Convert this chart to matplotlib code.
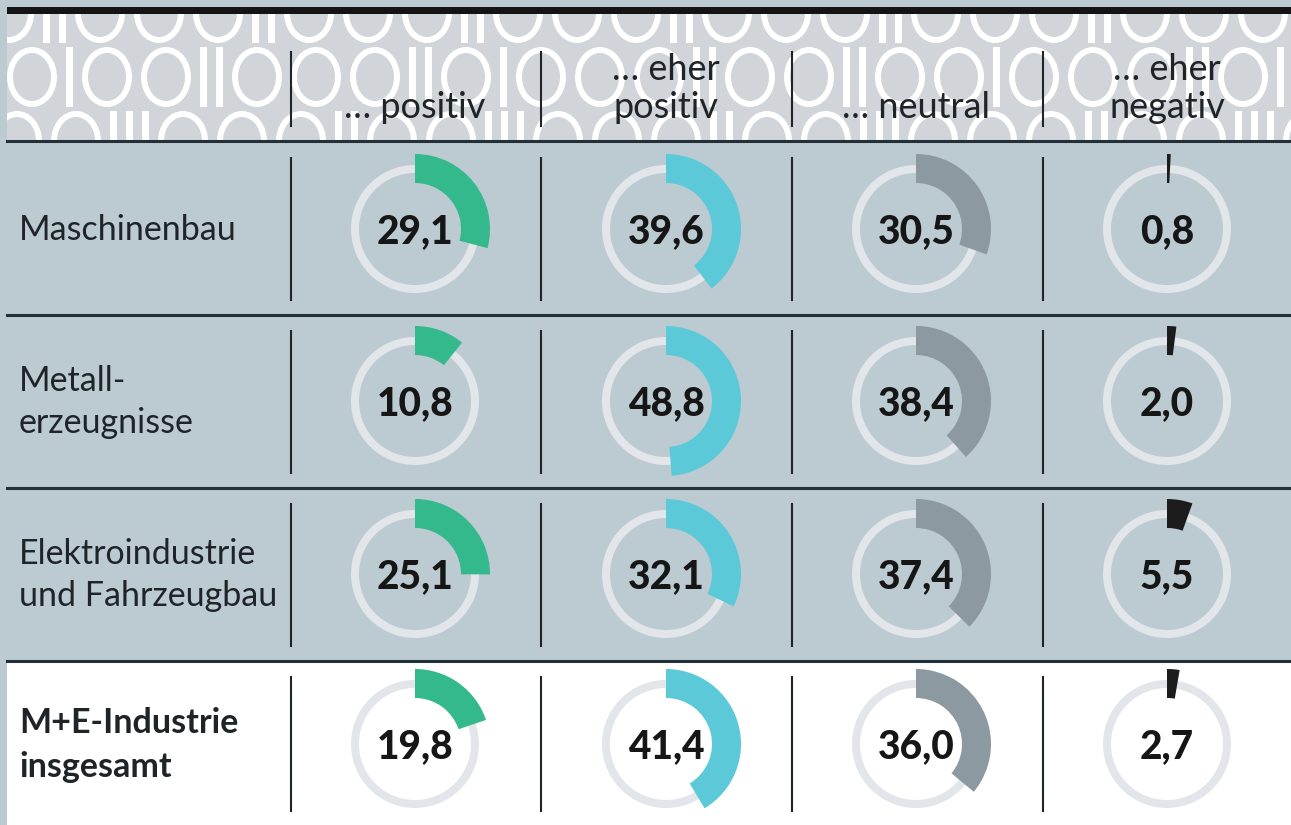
import matplotlib
matplotlib.use("Agg")
import matplotlib.pyplot as plt
from matplotlib.patches import Rectangle, Wedge, Ellipse

# values (percent)
categories = ["\u2026 positiv", "\u2026 eher\npositiv", "\u2026 neutral", "\u2026 eher\nnegativ"]
sectors = ["Maschinenbau", "Metall-\nerzeugnisse", "Elektroindustrie\nund Fahrzeugbau", "M+E-Industrie\ninsgesamt"]
positiv = [29.1, 10.8, 25.1, 19.8]
eher_positiv = [39.6, 48.8, 32.1, 41.4]
neutral = [30.5, 38.4, 37.4, 36.0]
eher_negativ = [0.8, 2.0, 5.5, 2.7]
series = [positiv, eher_positiv, neutral, eher_negativ]

colors = ["#33b98b", "#5cc9d8", "#8c99a1", "#1c1c1c"]
bg = "#bccad2"
header_bg = "#d1d5d9"
ring_col = "#e2e6ea"
line_col = "#22303a"
text_col = "#1f2428"
font = "Lato"

W, H = 1291, 825
fig = plt.figure(figsize=(W / 100, H / 100), dpi=100)
fig.patch.set_facecolor(bg)
ax = fig.add_axes([0, 0, 1, 1])
ax.set_xlim(0, W)
ax.set_ylim(H, 0)
ax.set_aspect("equal")
ax.axis("off")

left = 7
col_sep = [291, 541, 792, 1043]
col_cx = [415, 666, 916, 1167]
row_top = [142, 315, 488, 661]
row_bot = [314, 487, 660, 825]
row_cy = [229, 401, 574, 744]

# header band with binary pattern
hdr = Rectangle((left, 14), W - left, 127, facecolor=header_bg, edgecolor="none", zorder=1)
ax.add_patch(hdr)
pattern_rows = [
    ("0110001100011000110001100011000110001100011", -16, 13),
    ("0100110001101000110011001000110110011010011", 7, 77),
    ("0011100011001110001100111000110011100011001", -8, 141),
]
for seq, x0, yc in pattern_rows:
    x = x0
    for ch in seq:
        if ch == "0":
            e = Ellipse((x + 25, yc), 44, 54, facecolor="none", edgecolor="white",
                        lw=4.3, zorder=2)
            ax.add_patch(e)
            e.set_clip_path(hdr)
            x += 59
        else:
            r = Rectangle((x, yc - 30), 7, 60, facecolor="white", edgecolor="none", zorder=2)
            ax.add_patch(r)
            r.set_clip_path(hdr)
            x += 16
        if x > W + 20:
            break

# top black bar and header bottom line
ax.add_patch(Rectangle((left, 7), W - left, 7, facecolor="#141414", edgecolor="none", zorder=3))
ax.plot([left, W], [141, 141], color=line_col, lw=2.2, zorder=3)

# total row background
ax.add_patch(Rectangle((left, row_top[3]), W - left, H - row_top[3], facecolor="white",
                       edgecolor="none", zorder=1))
for y in row_bot[:3]:
    ax.plot([left, W], [y + 0.5, y + 0.5], color=line_col, lw=2.2, zorder=3)

# header labels and separators
for x in col_sep:
    ax.plot([x, x], [52, 126], color=text_col, lw=1.5, zorder=3)
for cx, lab in zip(col_cx, categories):
    lines = lab.split("\n")
    base = 118 - 38 * (len(lines) - 1)
    for i, ln in enumerate(lines):
        ax.text(cx, base + 38 * i, ln, ha="center", va="baseline", fontsize=26,
                family=font, color=text_col, zorder=4)

# rows
for r, sec in enumerate(sectors):
    total = r == 3
    for x in col_sep:
        ax.plot([x, x], [row_top[r] + 16, row_bot[r] - 14], color=text_col, lw=1.5, zorder=3)
    lines = sec.split("\n")
    step = 44 if total else 42
    for i, ln in enumerate(lines):
        yb = row_cy[r] + (i - (len(lines) - 1) / 2) * step + 11
        ax.text(19, yb, ln, ha="left", va="baseline", fontsize=24.5, family=font,
                color=text_col, fontweight="bold" if total else "normal", zorder=4)
    for c, vals in enumerate(series):
        v = vals[r]
        cx, cy = col_cx[c], row_cy[r]
        ax.add_patch(Wedge((cx, cy), 64, 0, 360, width=8, facecolor=ring_col,
                           edgecolor="none", zorder=3))
        ax.add_patch(Wedge((cx, cy), 75, -90, -90 + 3.6 * v, width=29,
                           facecolor=colors[c], edgecolor="none", zorder=4))
        ax.text(cx, cy + 14, f"{v:.1f}".replace(".", ","), ha="center", va="baseline",
                fontsize=28, family=font, fontweight=900, color="#161616", zorder=5)

fig.savefig("out.png", dpi=100, facecolor=bg)
